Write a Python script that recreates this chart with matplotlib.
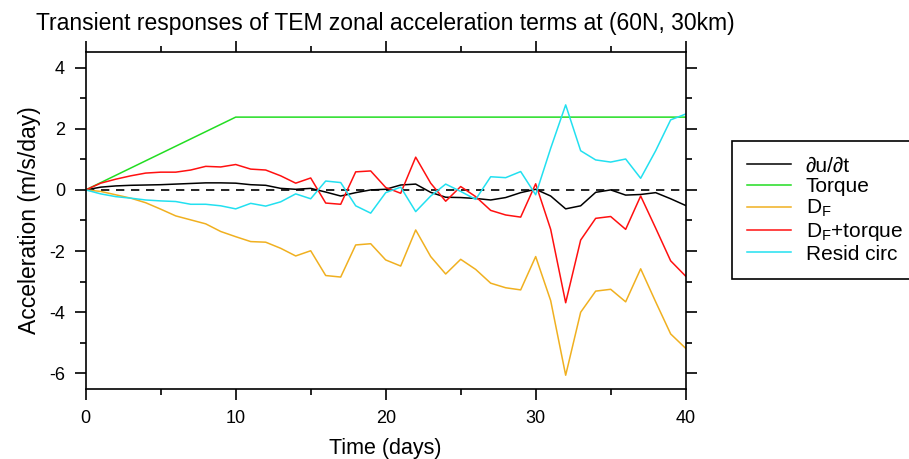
import numpy as np
import matplotlib
matplotlib.use('Agg')
import matplotlib.pyplot as plt
from matplotlib.ticker import MultipleLocator

plt.rcParams['font.family'] = ['Liberation Sans', 'DejaVu Sans']
plt.rcParams['mathtext.default'] = 'regular'
plt.rcParams['axes.unicode_minus'] = False

# data (daily values, days 0..40)
days = np.arange(0, 41)

dudt = [0.0, 0.09, 0.13, 0.15, 0.16, 0.17, 0.19, 0.21, 0.23, 0.23, 0.22,
        0.17, 0.15, 0.05, 0.02, 0.05, -0.07, -0.20, -0.09, 0.0, 0.02,
        0.16, 0.19, -0.08, -0.24, -0.25, -0.28, -0.33, -0.25, -0.09, 0.02,
        -0.20, -0.62, -0.52, -0.08, 0.0, -0.17, -0.15, -0.09, -0.29, -0.51]

torque_max = 2.38
torque = [torque_max * min(d, 10) / 10 for d in days]

dF = [0.0, -0.05, -0.16, -0.27, -0.42, -0.63, -0.85, -0.98, -1.11, -1.36, -1.53,
      -1.69, -1.71, -1.91, -2.16, -1.99, -2.80, -2.85, -1.80, -1.76, -2.29,
      -2.49, -1.31, -2.18, -2.75, -2.27, -2.60, -3.05, -3.20, -3.27, -2.18,
      -3.62, -6.06, -4.00, -3.31, -3.25, -3.66, -2.58, -3.66, -4.71, -5.18]

dF_torque = [0.0, 0.22, 0.35, 0.46, 0.55, 0.58, 0.58, 0.65, 0.77, 0.75, 0.83,
             0.68, 0.65, 0.46, 0.22, 0.39, -0.43, -0.47, 0.59, 0.62, 0.08,
             -0.11, 1.07, 0.22, -0.37, 0.11, -0.22, -0.67, -0.82, -0.89, 0.20,
             -1.29, -3.69, -1.64, -0.93, -0.87, -1.29, -0.20, -1.25, -2.32, -2.82]

resid = [0.0, -0.13, -0.22, -0.27, -0.33, -0.36, -0.38, -0.47, -0.47, -0.52, -0.62,
         -0.44, -0.53, -0.39, -0.13, -0.29, 0.29, 0.24, -0.52, -0.76, -0.09,
         0.09, -0.71, -0.20, 0.19, -0.05, -0.31, 0.43, 0.40, 0.60, -0.16,
         1.36, 2.78, 1.28, 0.98, 0.91, 1.01, 0.38, 1.28, 2.29, 2.48]

labels = ['\u2202u/\u2202t', 'Torque', 'D$_F$', 'D$_F$+torque', 'Resid circ']
colors = ['black', '#22dd22', '#f0b020', '#ff1010', '#22e0f0']

fig = plt.figure(figsize=(9.09, 4.59), dpi=100)
ax = fig.add_axes([0.0943, 0.1532, 0.66, 0.7329])

ax.axhline(0, color='black', lw=1.2, ls=(0, (5, 4)), zorder=1)
series = [dudt, torque, dF, dF_torque, resid]
for y, lab, c in zip(series, labels, colors):
    ax.plot(days, y, color=c, lw=1.1, label=lab)

ax.set_xlim(0, 40)
ax.set_ylim(-6.5, 4.5)
ax.xaxis.set_major_locator(MultipleLocator(10))
ax.xaxis.set_minor_locator(MultipleLocator(5))
ax.yaxis.set_major_locator(MultipleLocator(2))
ax.yaxis.set_minor_locator(MultipleLocator(1))
ax.tick_params(which='both', direction='out', top=True, right=True,
               labelsize=13, width=1.2)
ax.tick_params(which='major', length=8, pad=7)
ax.tick_params(which='minor', length=4)
for s in ax.spines.values():
    s.set_linewidth(1.2)

ax.set_title('Transient responses of TEM zonal acceleration terms at (60N, 30km)',
             fontsize=16.5, pad=16)
ax.set_xlabel('Time (days)', fontsize=15.5, labelpad=8)
ax.set_ylabel('Acceleration (m/s/day)', fontsize=16.5, labelpad=6)

# legend box runs off the right edge of the figure, as in the reference
leg = fig.legend(loc='upper left', bbox_to_anchor=(0.805, 0.40, 0.21, 0.293),
                 mode='expand', fontsize=15,
                 fancybox=False, edgecolor='black', framealpha=1,
                 handlelength=2.1, handletextpad=0.7, labelspacing=0.08,
                 borderpad=0.75, borderaxespad=0)
leg.get_frame().set_linewidth(1.2)

fig.savefig('out.png', dpi=100)
